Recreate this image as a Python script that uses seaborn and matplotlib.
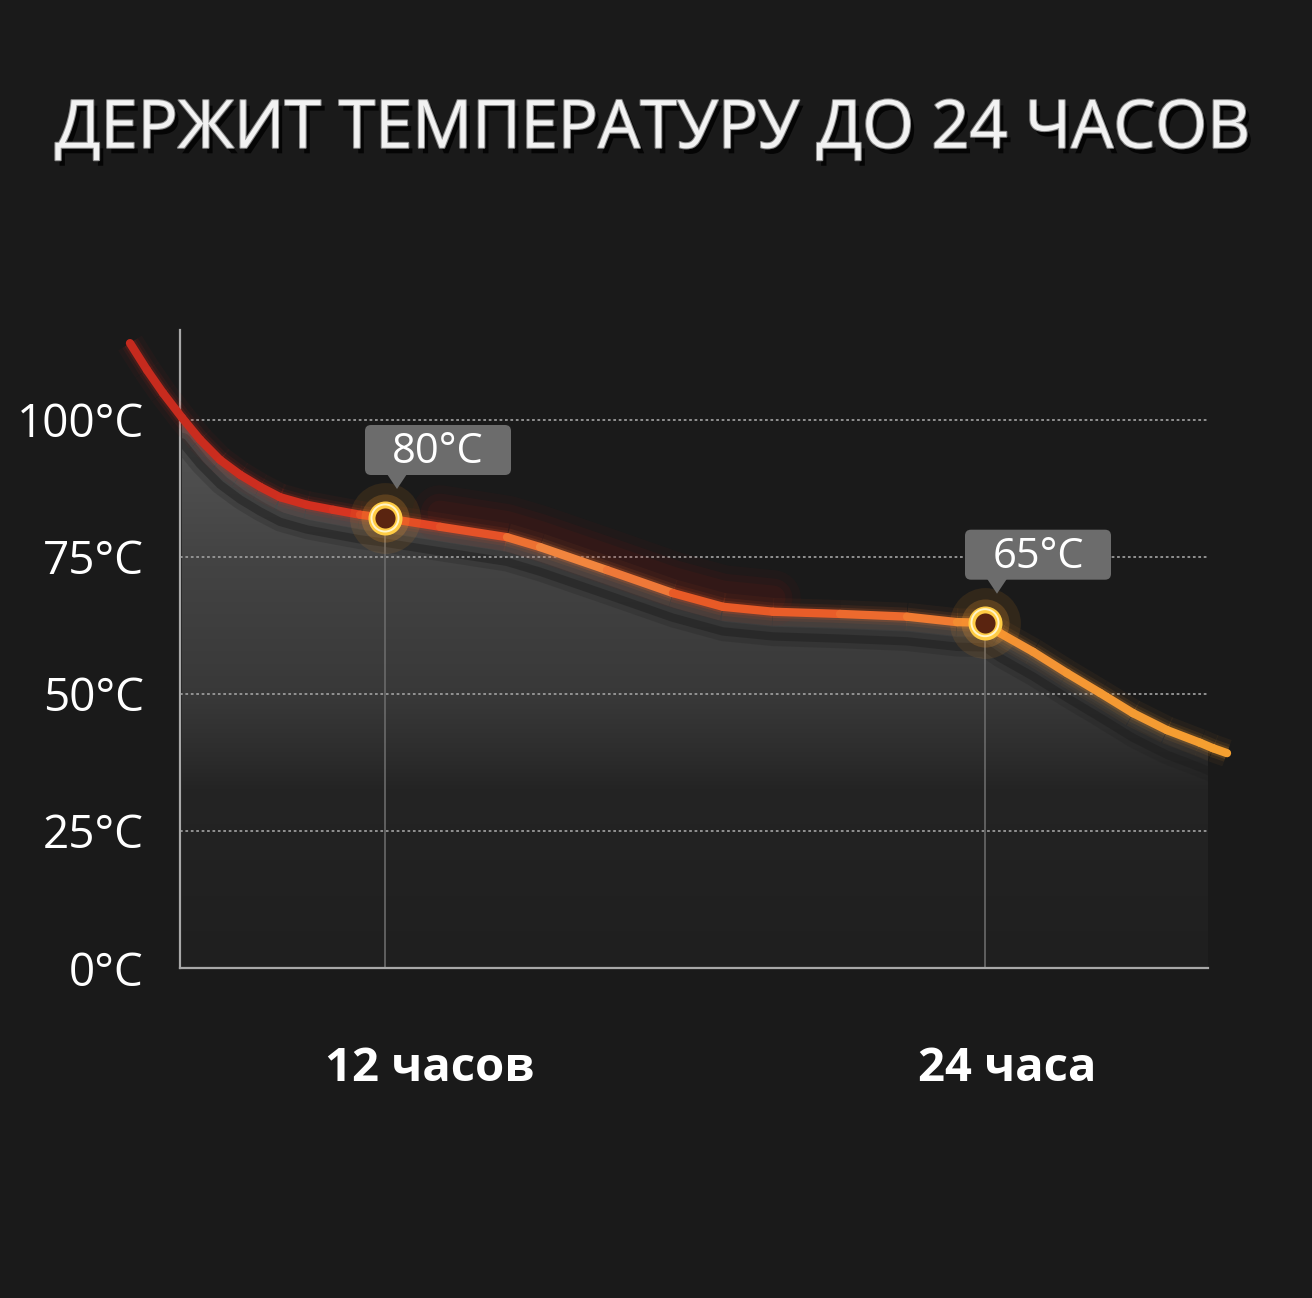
import numpy as np
import matplotlib
matplotlib.use("Agg")
import matplotlib.pyplot as plt
import matplotlib.transforms as mtransforms
import matplotlib.patheffects as pe
from matplotlib.collections import LineCollection
from matplotlib.colors import LinearSegmentedColormap
from matplotlib.patches import FancyBboxPatch, Polygon
import seaborn as sns

# ---- data ----
title = "ДЕРЖИТ ТЕМПЕРАТУРУ ДО 24 ЧАСОВ"
hours = [6.9, 7.24, 7.56, 7.94, 8.3, 8.7, 9.1, 9.5, 9.9, 10.44, 10.96, 11.5, 12.0,
         13.1, 14.44, 15.1, 16.44, 17.76, 18.76, 19.76, 21.1, 22.44, 23.44, 24.0,
         24.3, 24.96, 25.64, 26.3, 26.96, 27.64, 28.3, 28.56, 28.84]
temps = [114.0, 109.1, 104.9, 100.4, 96.4, 92.7, 90.0, 87.8, 85.9, 84.5, 83.6, 82.7, 82.1,
         80.5, 78.6, 76.8, 72.6, 68.4, 65.9, 65.0, 64.6, 64.1, 63.1, 63.0,
         61.1, 57.7, 53.8, 50.2, 46.5, 43.4, 41.1, 40.1, 39.2]
fill_end = 28.56
y_ticks = [0, 25, 50, 75, 100]
y_labels = ["0°C", "25°C", "50°C", "75°C", "100°C"]
x_marks = [12, 24]
mark_temps = [82.1, 63.0]
callouts = ["80°C", "65°C"]
x_labels = ["12 часов", "24 часа"]
x_label_shift = [0.9, 0.45]

bg = "#1a1a1a"
sns.set_theme(style="dark", rc={"figure.facecolor": bg, "axes.facecolor": bg,
                                "savefig.facecolor": bg})
plt.rcParams["font.family"] = ["Open Sans", "DejaVu Sans"]

fig = plt.figure(figsize=(13.12, 12.98), dpi=100)
ax = fig.add_axes([180 / 1312, 330 / 1298, 1028 / 1312, 638 / 1298])
xlim = (7.9, 28.46)
ylim = (0, 116.4)

h = np.array(hours)
t = np.array(temps)

# grey gradient area under the curve
inside = (h >= xlim[0]) & (h <= fill_end)
fh, ft = h[inside], t[inside]
fill_cmap = LinearSegmentedColormap.from_list(
    "fill", [(0, "#1f1f1f"), (0.28, "#242424"), (0.33, "#2c2c2c"),
             (0.42, "#383838"), (0.65, "#444444"), (0.86, "#565656"), (1, "#5e5e5e")])
grad = np.linspace(0, 1, 256).reshape(-1, 1)
im = ax.imshow(grad, extent=(xlim[0], fill_end, ylim[0], ylim[1]), origin="lower",
               aspect="auto", cmap=fill_cmap, zorder=1)
verts = list(zip(fh, ft)) + [(fh[-1], 0), (fh[0], 0)]
poly = Polygon(verts, closed=True, facecolor="none", edgecolor="none")
ax.add_patch(poly)
im.set_clip_path(poly)

# dark shadow band under the curve
for lw, a in [(14, 0.22), (6, 0.45)]:
    sns.lineplot(x=fh, y=ft - 4.5, ax=ax, color="#1c1c1c", lw=lw, alpha=a,
                 zorder=1.2).lines[-1].set_clip_path(poly)

# grid, markers' drop lines
ax.set_axisbelow("line")
ax.grid(axis="y", color="#9a9a9a", linestyle=(0, (1.5, 1.5)), lw=1.3)
ax.grid(axis="x", visible=False)
ax.vlines(x_marks, 0, mark_temps, color="#6a6a6a", lw=1.2, zorder=2)

# soft red haze above the middle part of the curve
mid = (h > 13) & (h < 20.5)
for lw, a in [(40, 0.05), (28, 0.07), (18, 0.08)]:
    sns.lineplot(x=h[mid], y=t[mid] + 2.5, ax=ax, color="#a01810", lw=lw, alpha=a,
                 zorder=2.5, solid_capstyle="round")

# glowing curve with colour running from red to orange
line_cmap = LinearSegmentedColormap.from_list(
    "heat", [(0, "#c52a1e"), (0.19, "#d3301f"), (0.234, "#e8502a"), (0.28, "#de3a20"),
             (0.37, "#f07a35"), (0.44, "#f29048"), (0.50, "#e85a25"), (0.60, "#e85a28"),
             (0.71, "#ee7030"), (0.78, "#f39035"), (1, "#f5a030")])
pts = np.column_stack([h, t])
segs = np.stack([pts[:-1], pts[1:]], axis=1)
mids = (h[:-1] + h[1:]) / 2
cols = line_cmap((mids - h.min()) / (h.max() - h.min()))
for lw, a in [(20, 0.05), (13, 0.09), (9, 0.16)]:
    lc = LineCollection(segs, colors=cols, linewidths=lw, alpha=a, capstyle="butt",
                        joinstyle="round", zorder=3, clip_on=False)
    ax.add_collection(lc)
lc = LineCollection(segs, colors=cols, linewidths=6, capstyle="round",
                    joinstyle="round", zorder=3.2, clip_on=False)
ax.add_collection(lc)

# glowing ring markers
ax.scatter(x_marks, mark_temps, s=2600, color="#ff9a20", alpha=0.10, lw=0, zorder=4, clip_on=False)
ax.scatter(x_marks, mark_temps, s=1200, color="#ffa030", alpha=0.20, lw=0, zorder=4, clip_on=False)
ax.scatter(x_marks, mark_temps, s=380, facecolor="#5a2410", edgecolor="#ffcc44", lw=5,
           zorder=5, clip_on=False)
ax.scatter(x_marks, mark_temps, s=380, facecolor="none", edgecolor="#fff4c8", lw=1.4,
           zorder=5, clip_on=False)

ax.set_xlim(*xlim)
ax.set_ylim(*ylim)

# call-out boxes anchored on the markers (offsets in pixels)
for xm, tm, txt in zip(x_marks, mark_temps, callouts):
    tr = mtransforms.IdentityTransform() + mtransforms.ScaledTranslation(xm, tm, ax.transData)
    box = FancyBboxPatch((-20, 43), 146, 50, boxstyle="round,pad=0,rounding_size=6",
                         facecolor="#6c6c6c", edgecolor="none", transform=tr, zorder=6,
                         clip_on=False)
    tip = Polygon([(2, 44), (22, 44), (12, 29)], closed=True, facecolor="#6c6c6c",
                  edgecolor="none", transform=tr, zorder=6, clip_on=False)
    ax.add_patch(box)
    ax.add_patch(tip)
    ax.text(53, 66, txt, transform=tr, ha="center", va="center", fontsize=30,
            color="white", zorder=7, clip_on=False)

# axes styling
for side in ["top", "right"]:
    ax.spines[side].set_visible(False)
for side in ["left", "bottom"]:
    ax.spines[side].set_visible(True)
    ax.spines[side].set_color("#a8a8a8")
    ax.spines[side].set_linewidth(1.6)
ax.set_yticks(y_ticks, y_labels)
ax.set_xticks([])
ax.tick_params(axis="y", length=0, pad=26, labelsize=33, labelcolor="white")
ax.set_xlabel("")
ax.set_ylabel("")

lab_tr = mtransforms.blended_transform_factory(ax.transData, ax.transAxes)
for xm, sh, lab in zip(x_marks, x_label_shift, x_labels):
    ax.text(xm + sh, -0.158, lab, transform=lab_tr, ha="center", va="center",
            fontsize=34, fontweight="bold", color="white")

fig.text(0.497, 1 - 130 / 1298, title, ha="center", va="center", fontsize=48,
         color="#f2f2f2",
         path_effects=[pe.withSimplePatchShadow(offset=(3, -4), shadow_rgbFace="black", alpha=0.8),
                       pe.Stroke(linewidth=1.5, foreground="#8a8a8a"), pe.Normal()])

fig.savefig("out.png", dpi=100, facecolor=bg)
